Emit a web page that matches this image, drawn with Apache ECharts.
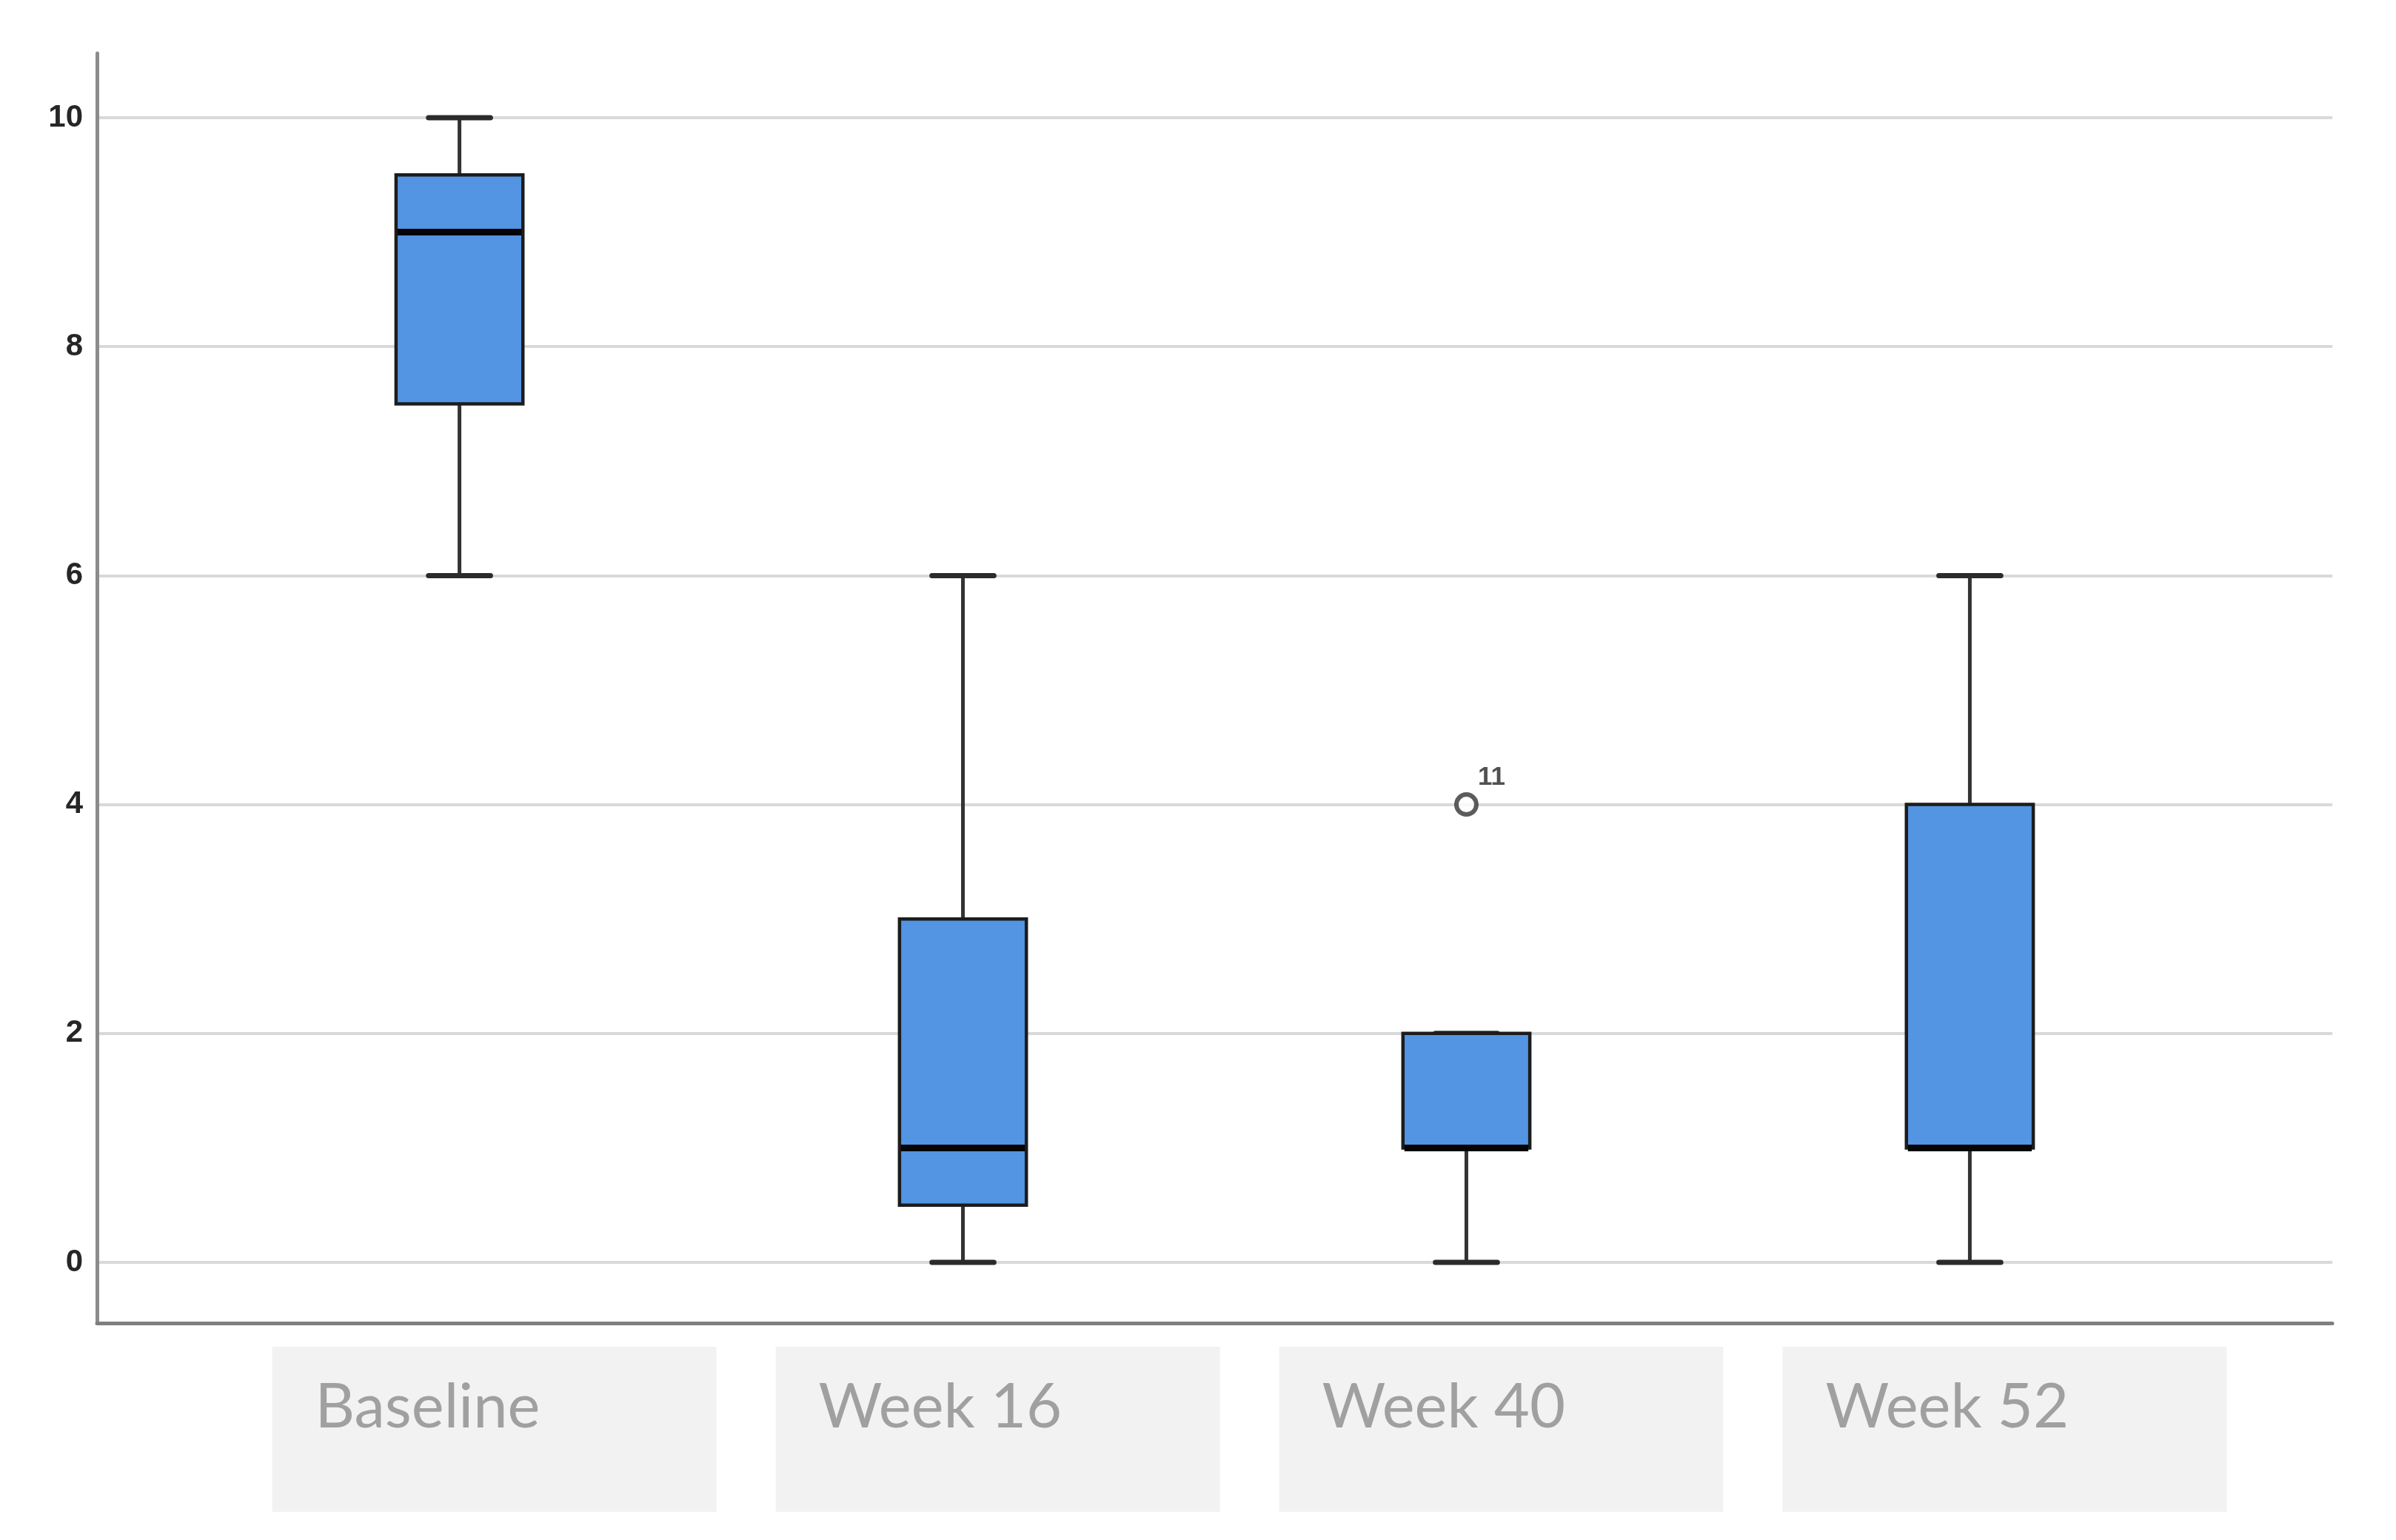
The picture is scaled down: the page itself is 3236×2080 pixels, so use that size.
<!DOCTYPE html>
<html>
<head>
<meta charset="utf-8">
<script src="https://cdn.jsdelivr.net/npm/echarts@6.0.0/dist/echarts.min.js"></script>
<style>
  html, body { margin: 0; padding: 0; background: #ffffff; }
  #chart { width: 3236px; height: 2080px; }
</style>
</head>
<body>
<div id="chart"></div>
<script>
// ---- data ----
const categories = ['Baseline', 'Week 16', 'Week 40', 'Week 52'];
const whiskerLow  = [6, 0, 0, 0];
const quartile1   = [7.5, 0.5, 1, 1];
const medians     = [9, 1, 1, 1];
const quartile3   = [9.5, 3, 2, 4];
const whiskerHigh = [10, 6, 2, 6];
const outlierCategory = [2];
const outlierValues   = [4];
const outlierLabels   = ['11'];
const yTicks = [0, 2, 4, 6, 8, 10];

// ---- build ----
const boxData = categories.map((c, i) => [i, whiskerLow[i], quartile1[i], medians[i], quartile3[i], whiskerHigh[i]]);
const outlierData = outlierCategory.map((c, i) => ({ value: [c, outlierValues[i]], name: outlierLabels[i] }));

const xMin = -0.72, xMax = 3.72;
const labelShift = -0.372;

function renderBox(params, api) {
  const x = api.value(0);
  const pMin = api.coord([x, api.value(1)]);
  const pQ1 = api.coord([x, api.value(2)]);
  const pMed = api.coord([x, api.value(3)]);
  const pQ3 = api.coord([x, api.value(4)]);
  const pMax = api.coord([x, api.value(5)]);
  const unit = api.size([1, 0])[0];
  const bw = unit * 0.252;
  const cw = unit * 0.123;
  const cx = pMed[0];
  const lineStyle = { stroke: '#333333', lineWidth: 5 };
  const capStyle = { stroke: '#2b2b2b', lineWidth: 7, lineCap: 'round' };
  return {
    type: 'group',
    children: [
      { type: 'line', shape: { x1: cx, y1: pMax[1], x2: cx, y2: pQ3[1] }, style: lineStyle },
      { type: 'line', shape: { x1: cx, y1: pQ1[1], x2: cx, y2: pMin[1] }, style: lineStyle },
      { type: 'line', shape: { x1: cx - cw / 2, y1: pMax[1], x2: cx + cw / 2, y2: pMax[1] }, style: capStyle },
      { type: 'line', shape: { x1: cx - cw / 2, y1: pMin[1], x2: cx + cw / 2, y2: pMin[1] }, style: capStyle },
      { type: 'rect', shape: { x: cx - bw / 2, y: pQ3[1], width: bw, height: pQ1[1] - pQ3[1] },
        style: { fill: '#5394e3', stroke: '#1c1c1c', lineWidth: 4.5 } },
      { type: 'line', shape: { x1: cx - bw / 2 + 2, y1: pMed[1], x2: cx + bw / 2 - 2, y2: pMed[1] },
        style: { stroke: '#050505', lineWidth: 9 } }
    ]
  };
}

const chart = echarts.init(document.getElementById('chart'), null, { renderer: 'canvas' });
chart.setOption({
  animation: false,
  backgroundColor: '#ffffff',
  grid: [
    { left: 131, right: 86, top: 159, bottom: 375 },
    { left: 131, right: 86, top: 72, bottom: 293 }
  ],
  xAxis: [
    { type: 'value', gridIndex: 0, min: xMin, max: xMax,
      axisLine: { show: false }, axisTick: { show: false }, axisLabel: { show: false }, splitLine: { show: false } },
    { type: 'value', gridIndex: 1, min: xMin, max: xMax,
      axisLine: { show: true, onZero: false, lineStyle: { color: '#7f7f7f', width: 5 } },
      axisTick: { show: false }, splitLine: { show: false },
      axisLabel: {
        show: true,
        customValues: categories.map((c, i) => i + labelShift),
        formatter: (v) => categories[Math.round(v - labelShift)],
        align: 'left', verticalAlign: 'top',
        margin: 32,
        fontFamily: 'Lato', fontSize: 83, lineHeight: 84, color: '#a0a0a0',
        backgroundColor: '#f2f2f2',
        width: 542, overflow: 'none',
        padding: [40, 0, 99, 58],
        hideOverlap: false
      } }
  ],
  yAxis: [
    { type: 'value', gridIndex: 0, min: yTicks[0], max: yTicks[yTicks.length - 1], interval: 2,
      axisLine: { show: false }, axisTick: { show: false },
      axisLabel: { show: true, margin: 19, fontFamily: 'Liberation Sans', fontSize: 42, fontWeight: 'bold', color: '#262626',
        formatter: (v) => String(v) },
      splitLine: { show: true, lineStyle: { color: '#d9d9d9', width: 4 } } },
    { type: 'value', gridIndex: 1, min: 0, max: 1,
      axisLine: { show: true, onZero: false, lineStyle: { color: '#8c8c8c', width: 5 } },
      axisTick: { show: false }, axisLabel: { show: false }, splitLine: { show: false } }
  ],
  series: [
    { type: 'custom', xAxisIndex: 0, yAxisIndex: 0, renderItem: renderBox,
      encode: { x: 0, y: [1, 2, 3, 4, 5] }, data: boxData, silent: true },
    { type: 'scatter', xAxisIndex: 0, yAxisIndex: 0, symbol: 'circle', symbolSize: 27,
      itemStyle: { color: '#ffffff', borderColor: '#333333', borderWidth: 6 },
      label: { show: true, formatter: (p) => p.name, position: 'top', distance: 2, offset: [34, 0],
        fontFamily: 'Liberation Sans', fontSize: 35, fontWeight: 'bold', color: '#262626' },
      data: outlierData, silent: true }
  ]
});
</script>
</body>
</html>
